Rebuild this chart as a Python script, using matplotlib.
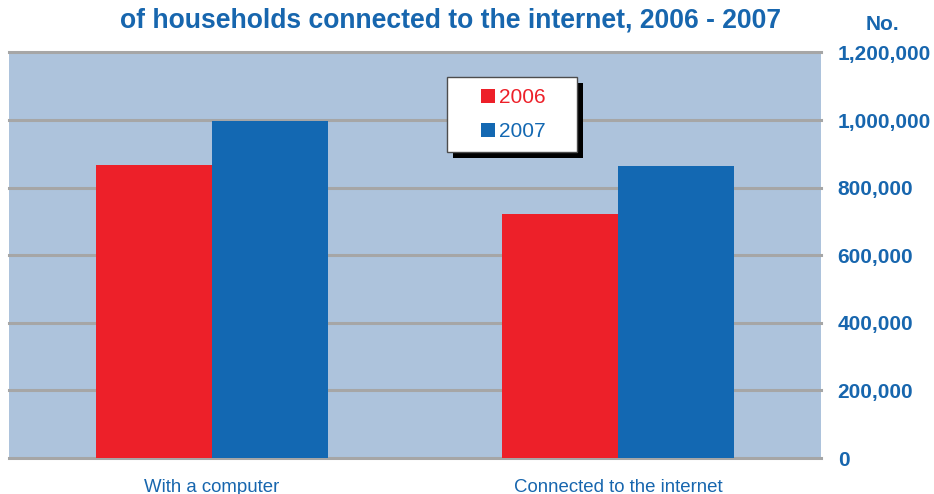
import numpy as np
import matplotlib
matplotlib.use("Agg")
import matplotlib.pyplot as plt
from matplotlib.lines import Line2D
from matplotlib.patches import Rectangle

# Households with a computer / connected to the internet
categories = ["With a computer", "Connected to the internet"]
years = ["2006", "2007"]
values_2006 = [867000, 722000]
values_2007 = [997000, 864000]
y_ticks = [0, 200000, 400000, 600000, 800000, 1000000, 1200000]
y_tick_labels = ["0", "200,000", "400,000", "600,000", "800,000", "1,000,000", "1,200,000"]

RED = "#ed2029"
BLUE = "#1368b2"
TEXT_BLUE = "#1766ae"
PANEL = "#adc3dc"
GRID = "#a6a6a6"

plt.rcParams['font.family'] = ['Liberation Sans', 'DejaVu Sans']

W, H = 934, 494
fig = plt.figure(figsize=(W / 100, H / 100), dpi=100)
ax = fig.add_axes([9 / W, 1 - 458 / H, 812 / W, 405.5 / H])
ax.set_facecolor(PANEL)

x = np.arange(len(categories))
bw = 116 / 406
ax.bar(x - bw / 2, values_2006, bw, color=RED, zorder=3)
ax.bar(x + bw / 2, values_2007, bw, color=BLUE, zorder=3)
ax.set_xlim(-0.5, 1.5)
ax.set_ylim(0, 1200000)

for t in y_ticks:
    ax.axhline(t, color=GRID, lw=2.2, zorder=2, clip_on=False)

for s in ax.spines.values():
    s.set_visible(False)

ax.yaxis.tick_right()
ax.set_yticks(y_ticks)
ax.set_yticklabels(y_tick_labels, fontsize=15, fontweight="bold", color=TEXT_BLUE)
ax.tick_params(axis="y", length=0, pad=12)

ax.set_xticks(x)
ax.set_xticklabels(categories, fontsize=13.4, color=TEXT_BLUE)
ax.tick_params(axis="x", length=0, pad=15)

fig.text(451 / W, 1 - 28 / H, "of households connected to the internet, 2006 - 2007",
         ha="center", va="baseline", fontsize=19.1, fontweight="bold", color=TEXT_BLUE)
fig.text(882 / W, 1 - 30 / H, "No.", ha="center", va="baseline",
         fontsize=15, fontweight="bold", color=TEXT_BLUE)

handles = [Line2D([], [], ls="none", marker="s", markersize=10, color=c, markeredgewidth=0)
           for c in (RED, BLUE)]
leg_x0, leg_y0, leg_w, leg_h = 447 / W, 1 - 152 / H, 130 / W, 75 / H
leg = fig.legend(handles, years, loc="upper left",
                 bbox_to_anchor=(leg_x0, leg_y0, leg_w, leg_h), mode="expand",
                 borderaxespad=0, fontsize=15, frameon=True, fancybox=False,
                 edgecolor="#4d4d4d", framealpha=1, handlelength=2.9,
                 handletextpad=-0.9, borderpad=0.52, labelspacing=0.75)
leg.get_frame().set_linewidth(1.0)
leg.set_zorder(6)
for txt, c in zip(leg.get_texts(), (RED, BLUE)):
    txt.set_color(c)

# solid drop shadow behind the legend box
fig.canvas.draw()
bb = leg.get_frame().get_window_extent()
shadow = Rectangle((bb.x0 + 6, bb.y0 - 6), bb.width, bb.height, transform=None,
                   facecolor="black", edgecolor="none", zorder=5)
fig.patches.append(shadow)
shadow.set_figure(fig)

fig.savefig("out.png", dpi=100)
